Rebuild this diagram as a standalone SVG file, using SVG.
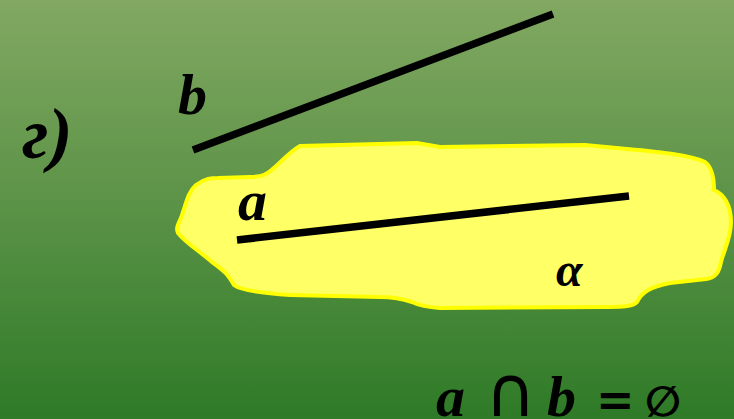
<svg xmlns="http://www.w3.org/2000/svg" width="734" height="419" viewBox="0 0 734 419">
<defs>
<linearGradient id="bg" x1="0" y1="0" x2="0" y2="1">
<stop offset="0" stop-color="#82a862"/>
<stop offset="0.5" stop-color="#5a9246"/>
<stop offset="1" stop-color="#2e7a27"/>
</linearGradient>
<style>
.lbl{font-family:"Liberation Serif","Times New Roman",serif;font-style:italic;font-weight:bold;fill:#000}
.ln{stroke:#000;stroke-width:7.5;fill:none}
</style>
</defs>
<rect width="734" height="419" fill="url(#bg)"/>
<g id="plane">
<path d="M300,146 L417,143 L440,147 L585,145 L627,149 C660,152 690,155 705,162 C713,168 714,180 714,190 C724,194 731,205 731,222 C731,238 724,250 721,262 C719,272 716,278 706,279 L670,283 C650,287 642,292 637,302 C633,307 620,307 609,307 L440,308 C425,307 418,305 412,302 C400,298 392,297 380,297 L290,295 C260,293 240,290 234,285 C228,275 226,272 212,262 C198,250 186,243 178,233 C175,227 180,222 182,215 C186,204 188,192 196,185 C205,178 212,178 218,178 L250,177 C262,177 268,174 274,168 C285,158 292,150 300,146 Z" fill="#ffff66" stroke="#ffff00" stroke-width="4"/>
</g>
<g id="connectors">
<line class="ln" x1="193" y1="150" x2="553" y2="14"/>
<line class="ln" x1="237" y1="240" x2="629" y2="196"/>
</g>
<g id="labels">
<text class="lbl" x="22" y="158" font-size="72">г)</text>
<text class="lbl" x="178" y="114" font-size="58">b</text>
<text class="lbl" x="238" y="220" font-size="58">a</text>
<text class="lbl" x="556" y="286" font-size="48">α</text>
<text x="436" y="416" font-size="58" font-family="Liberation Serif,serif"><tspan class="lbl">a</tspan><tspan x="485" font-family="DejaVu Sans,sans-serif" font-size="70">∩</tspan><tspan x="547" class="lbl">b</tspan><tspan x="596" font-family="DejaVu Sans,sans-serif" font-weight="bold" font-size="46">=</tspan><tspan x="645" font-family="DejaVu Sans,sans-serif" font-weight="bold" font-size="42">∅</tspan></text>
</g>
</svg>
